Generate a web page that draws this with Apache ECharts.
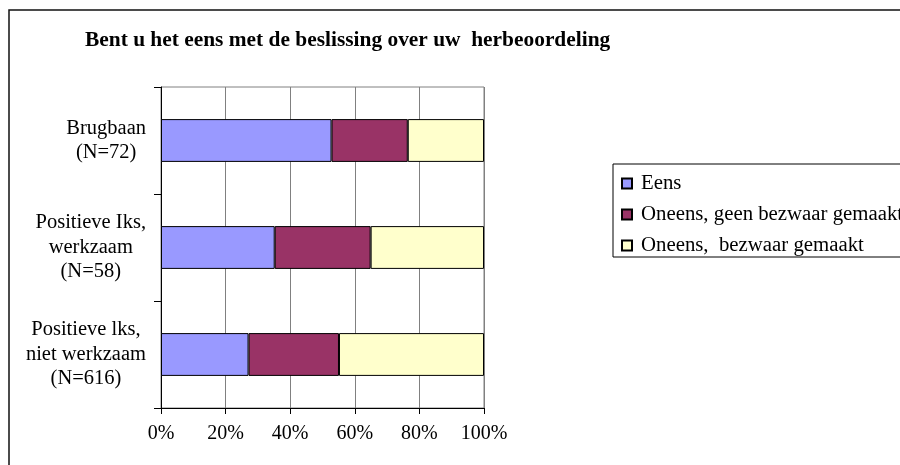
<!DOCTYPE html>
<html>
<head>
<meta charset="utf-8">
<script src="https://cdn.jsdelivr.net/npm/echarts@6/dist/echarts.min.js"></script>
<style>
  html, body { margin: 0; padding: 0; background: #fff; }
  #chart { width: 900px; height: 465px; }
</style>
</head>
<body>
<div id="chart"></div>
<script>
const titleText = 'Bent u het eens met de beslissing over uw  herbeoordeling';
const categories = ['Brugbaan\n(N=72)', 'Positieve Iks,\nwerkzaam\n(N=58)', 'Positieve lks,\nniet werkzaam\n(N=616)'];
const seriesNames = ['Eens', 'Oneens, geen bezwaar gemaakt', 'Oneens,  bezwaar gemaakt'];
const eens = [52.8, 35.2, 27.1];
const oneensGeenBezwaar = [23.6, 29.7, 28.0];
const oneensBezwaar = [23.6, 35.1, 44.9];
const xTicks = [0, 20, 40, 60, 80, 100];
const colors = ['#9999FF', '#993366', '#FFFFCC'];

const FONT = "'Liberation Serif', 'Times New Roman', serif";
const chart = echarts.init(document.getElementById('chart'), null, { renderer: 'canvas' });

const seriesData = [eens, oneensGeenBezwaar, oneensBezwaar];

chart.setOption({
  animation: false,
  backgroundColor: '#fff',
  title: {
    text: titleText,
    left: 85,
    top: 30,
    padding: 0,
    textStyle: { fontFamily: FONT, fontWeight: 'bold', fontSize: 21.4, color: '#000' }
  },
  graphic: [{
    type: 'rect',
    shape: { x: 9, y: 10, width: 1000, height: 1000 },
    style: { fill: 'none', stroke: '#111', lineWidth: 1.5 },
    silent: true,
    z: -1
  }],
  legend: {
    orient: 'vertical',
    left: 613,
    top: 164,
    padding: [9, 30, 1, 8],
    borderColor: '#000',
    borderWidth: 1,
    itemWidth: 10,
    itemHeight: 10,
    itemGap: 10,
    icon: 'rect',
    data: seriesNames,
    textStyle: { fontFamily: FONT, fontSize: 20.8, color: '#000', padding: [0, 0, 0, 4] }
  },
  grid: {
    left: 161, right: 416, top: 87, bottom: 57,
    show: true, borderColor: '#808080', borderWidth: 1
  },
  xAxis: {
    type: 'value',
    min: xTicks[0],
    max: xTicks[xTicks.length - 1],
    interval: 20,
    axisLine: { show: true, lineStyle: { color: '#000', width: 1 } },
    axisTick: { show: true, length: 6, lineStyle: { color: '#000' } },
    splitLine: { show: true, lineStyle: { color: '#808080', width: 1 } },
    axisLabel: {
      formatter: '{value}%',
      margin: 16,
      fontFamily: FONT, fontSize: 20, color: '#000'
    }
  },
  yAxis: {
    type: 'category',
    inverse: true,
    data: categories,
    axisLine: { show: true, lineStyle: { color: '#000', width: 1 } },
    axisTick: { show: true, length: 7, lineStyle: { color: '#000' } },
    splitLine: { show: false },
    axisLabel: {
      margin: 15,
      formatter: function (v) {
        return v.split('\n').map(function (l) { return '{c|' + l + '}'; }).join('\n');
      },
      rich: {
        c: { align: 'center', fontFamily: FONT, fontSize: 20.5, lineHeight: 24.5, color: '#000' }
      }
    }
  },
  series: seriesNames.map(function (name, i) {
    return {
      name: name,
      type: 'bar',
      stack: 'total',
      barWidth: '40%',
      data: seriesData[i],
      itemStyle: { color: colors[i], borderColor: '#000', borderWidth: 1 },
      emphasis: { disabled: true }
    };
  })
});
</script>
</body>
</html>
